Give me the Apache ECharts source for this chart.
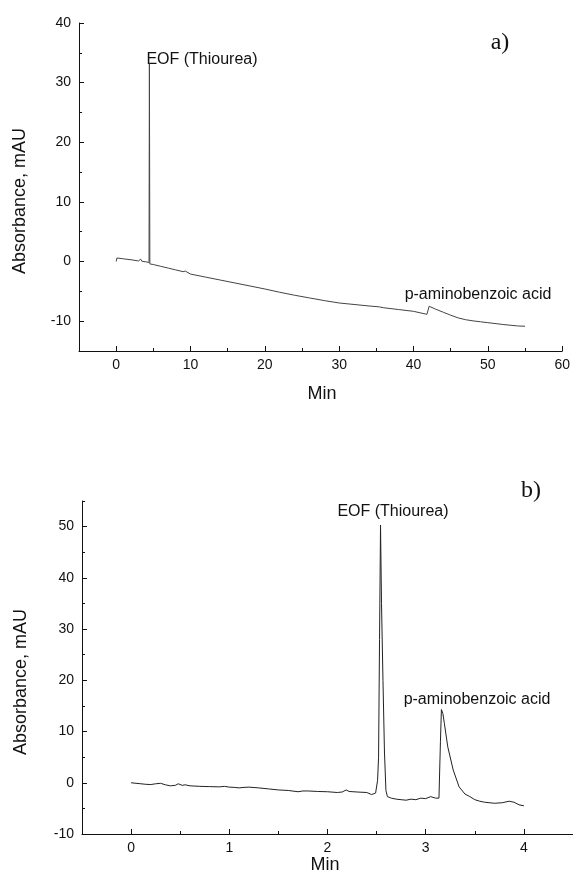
<!DOCTYPE html>
<html>
<head>
<meta charset="utf-8">
<script src="https://cdn.jsdelivr.net/npm/echarts@6/dist/echarts.min.js"></script>
<style>
html,body{margin:0;padding:0;background:#fff;}
#chart{width:573px;height:886px;}
</style>
</head>
<body>
<div id="chart"></div>
<script>
// ---- Panel a) ----
const timeA = [0, 0.1, 1, 2, 3, 3.3, 3.45, 4, 4.42, 4.47, 4.53, 5, 6, 7, 8, 9, 9.3, 9.5, 10, 12, 14, 16, 18, 20, 22, 24, 26, 28, 30, 32, 34, 35.4, 36, 38, 40, 41.8, 42.1, 43, 44, 45, 46, 47, 48, 49, 50, 52, 54, 55];
const absA = [0, 0.6, 0.45, 0.3, 0.1, 0.4, 0.05, -0.05, -0.15, 33.2, -0.4, -0.5, -0.8, -1.1, -1.4, -1.7, -1.6, -1.85, -2.1, -2.6, -3.1, -3.6, -4.1, -4.6, -5.15, -5.65, -6.1, -6.55, -6.95, -7.2, -7.45, -7.6, -7.75, -8.05, -8.35, -8.85, -7.5, -8.0, -8.5, -9.0, -9.45, -9.75, -9.95, -10.1, -10.25, -10.55, -10.8, -10.85];
const xTicksA = [0, 10, 20, 30, 40, 50, 60];
const xMinorA = [5, 15, 25, 35, 45, 55];
const yTicksA = [-10, 0, 10, 20, 30, 40];
const yMinorA = [-5, 5, 15, 25, 35];

// ---- Panel b) ----
const timeB = [0, 0.05, 0.1, 0.15, 0.2, 0.25, 0.3, 0.35, 0.4, 0.45, 0.48, 0.52, 0.55, 0.6, 0.7, 0.8, 0.9, 0.95, 1.0, 1.05, 1.1, 1.15, 1.2, 1.3, 1.4, 1.5, 1.6, 1.7, 1.75, 1.8, 1.9, 2.0, 2.1, 2.15, 2.19, 2.22, 2.3, 2.4, 2.45, 2.49, 2.51, 2.52, 2.53, 2.54, 2.55, 2.565, 2.58, 2.595, 2.61, 2.65, 2.7, 2.75, 2.8, 2.85, 2.9, 2.95, 3.0, 3.05, 3.1, 3.135, 3.15, 3.16, 3.175, 3.19, 3.225, 3.28, 3.34, 3.4, 3.45, 3.5, 3.55, 3.6, 3.7, 3.78, 3.85, 3.9, 3.95, 4.0];
const absB = [0, -0.1, -0.2, -0.3, -0.35, -0.2, -0.1, -0.4, -0.6, -0.5, -0.2, -0.5, -0.4, -0.6, -0.7, -0.75, -0.8, -0.7, -0.85, -0.9, -1.0, -0.9, -0.85, -1.0, -1.2, -1.4, -1.5, -1.75, -1.6, -1.6, -1.7, -1.75, -1.9, -1.8, -1.4, -1.7, -1.8, -1.9, -2.3, -2.0, 0.5, 5, 28, 50.3, 35, 20, 6, -1.5, -2.7, -3.0, -3.2, -3.3, -3.4, -3.2, -3.3, -3.0, -3.1, -2.7, -3.0, -3.0, 8, 14.3, 13.5, 11.6, 7.0, 2.5, -0.8, -2.2, -2.7, -3.3, -3.6, -3.8, -4.0, -3.9, -3.6, -3.8, -4.3, -4.5];
const xTicksB = [0, 1, 2, 3, 4];
const xMinorB = [0.5, 1.5, 2.5, 3.5, 4.5];
const yTicksB = [-10, 0, 10, 20, 30, 40, 50];
const yMinorB = [-5, 5, 15, 25, 35, 45, 55];

const FONT = "'Liberation Sans', Arial, sans-serif";
const SERIF = "'Liberation Serif', 'Times New Roman', serif";
const INK = '#111';

function mainX(grid, min, max, ticks) {
  return {
    type: 'value', gridIndex: grid, min: min, max: max, position: 'bottom',
    axisLine: { show: true, onZero: false, lineStyle: { color: INK, width: 1 } },
    axisTick: { show: true, inside: true, length: 5, customValues: ticks, lineStyle: { color: INK } },
    axisLabel: { show: true, customValues: ticks, margin: 7, color: INK, fontSize: 14, fontFamily: FONT },
    splitLine: { show: false }
  };
}
function minorX(grid, min, max, ticks) {
  return {
    type: 'value', gridIndex: grid, min: min, max: max, position: 'bottom',
    axisLine: { show: false, onZero: false },
    axisTick: { show: true, inside: true, length: 3, customValues: ticks, lineStyle: { color: INK } },
    axisLabel: { show: false },
    splitLine: { show: false }
  };
}
function mainY(grid, min, max, ticks) {
  return {
    type: 'value', gridIndex: grid, min: min, max: max, position: 'left',
    axisLine: { show: true, onZero: false, lineStyle: { color: INK, width: 1 } },
    axisTick: { show: true, inside: true, length: 5, customValues: ticks, lineStyle: { color: INK } },
    axisLabel: { show: true, customValues: ticks, margin: 8, color: INK, fontSize: 14, fontFamily: FONT },
    splitLine: { show: false }
  };
}
function minorY(grid, min, max, ticks) {
  return {
    type: 'value', gridIndex: grid, min: min, max: max, position: 'left',
    axisLine: { show: false, onZero: false },
    axisTick: { show: true, inside: true, length: 3, customValues: ticks, lineStyle: { color: INK } },
    axisLabel: { show: false },
    splitLine: { show: false }
  };
}

const chart = echarts.init(document.getElementById('chart'), null, { renderer: 'canvas' });
chart.setOption({
  animation: false,
  backgroundColor: '#fff',
  grid: [
    { left: 79, right: 9, top: 23, bottom: 535, containLabel: false },
    { left: 82, right: 0, top: 501, bottom: 52, containLabel: false }
  ],
  xAxis: [
    mainX(0, -5, 60, xTicksA),
    minorX(0, -5, 60, xMinorA),
    mainX(1, -0.5, 4.5, xTicksB),
    minorX(1, -0.5, 4.5, xMinorB)
  ],
  yAxis: [
    mainY(0, -15, 40, yTicksA),
    minorY(0, -15, 40, yMinorA),
    mainY(1, -10, 55, yTicksB),
    minorY(1, -10, 55, yMinorB)
  ],
  series: [
    {
      type: 'line', xAxisIndex: 0, yAxisIndex: 0,
      data: timeA.map((t, i) => [t, absA[i]]),
      showSymbol: false, symbol: 'none', clip: true,
      lineStyle: { color: '#444', width: 1 }
    },
    {
      type: 'line', xAxisIndex: 2, yAxisIndex: 2,
      data: timeB.map((t, i) => [t, absB[i]]),
      showSymbol: false, symbol: 'none', clip: true,
      lineStyle: { color: '#222', width: 1 }
    }
  ],
  graphic: [
    // axis titles
    { type: 'text', x: 20, y: 201, rotation: Math.PI / 2,
      style: { text: 'Absorbance, mAU', font: '18px ' + FONT, fill: INK, align: 'center', verticalAlign: 'middle' } },
    { type: 'text', x: 322, y: 394,
      style: { text: 'Min', font: '18px ' + FONT, fill: INK, align: 'center', verticalAlign: 'middle' } },
    { type: 'text', x: 21, y: 682, rotation: Math.PI / 2,
      style: { text: 'Absorbance, mAU', font: '18px ' + FONT, fill: INK, align: 'center', verticalAlign: 'middle' } },
    { type: 'text', x: 325, y: 865,
      style: { text: 'Min', font: '18px ' + FONT, fill: INK, align: 'center', verticalAlign: 'middle' } },
    // panel letters
    { type: 'text', x: 500, y: 43,
      style: { text: 'a)', font: '24px ' + SERIF, fill: INK, align: 'center', verticalAlign: 'middle' } },
    { type: 'text', x: 531, y: 491,
      style: { text: 'b)', font: '24px ' + SERIF, fill: INK, align: 'center', verticalAlign: 'middle' } },
    // peak annotations
    { type: 'text', x: 202, y: 60,
      style: { text: 'EOF (Thiourea)', font: '16px ' + FONT, fill: INK, align: 'center', verticalAlign: 'middle' } },
    { type: 'text', x: 478, y: 295,
      style: { text: 'p-aminobenzoic acid', font: '16px ' + FONT, fill: INK, align: 'center', verticalAlign: 'middle' } },
    { type: 'text', x: 393, y: 512,
      style: { text: 'EOF (Thiourea)', font: '16px ' + FONT, fill: INK, align: 'center', verticalAlign: 'middle' } },
    { type: 'text', x: 477, y: 700,
      style: { text: 'p-aminobenzoic acid', font: '16px ' + FONT, fill: INK, align: 'center', verticalAlign: 'middle' } }
  ]
});
</script>
</body>
</html>
